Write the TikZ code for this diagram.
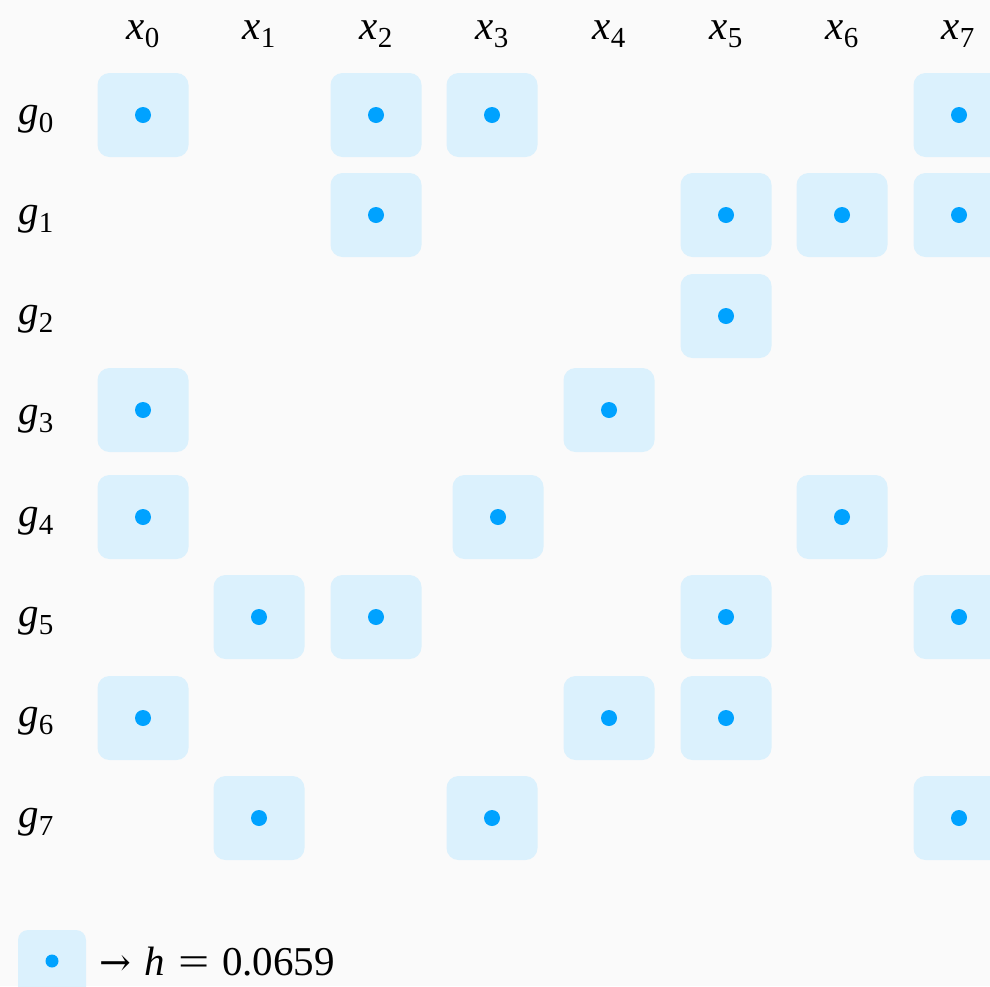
\documentclass[tikz,border=0pt]{standalone}
\usepackage{fontspec}
\usepackage{graphicx}
\setmainfont{Liberation Serif}
\newfontfamily\arrowfont{DejaVu Serif}
\definecolor{bgc}{RGB}{250,250,250}
\definecolor{cellc}{RGB}{219,241,253}
\definecolor{dotc}{RGB}{0,162,255}
\newcommand{\mylbl}[2]{\textit{#1}\raisebox{-0.2em}{\fontsize{29}{29}\selectfont #2}}
\tikzset{
  cell/.style={fill=cellc, draw=none, rounded corners=12pt, minimum width=91pt, minimum height=84pt, inner sep=0pt},
  lab/.style={anchor=base, inner sep=0pt, font=\fontsize{41}{44}\selectfont},
}
\newcommand{\mycell}[3]{%
  \node[cell] (#1) at (#2,#3) {};
  \fill[dotc] (#1.center) circle (8pt);}
\begin{document}
\begin{tikzpicture}[x=1pt,y=-1pt]
\fill[bgc] (0,0) rectangle (990,986);
\useasboundingbox (0,0) rectangle (990,986);
\clip (0,0) rectangle (990,986);
% column labels
\foreach \i/\xx in {0/143,1/259,2/376,3/492,4/609,5/726,6/842,7/958}{
  \node[lab] (x\i) at (\xx,39) {\mylbl{x}{\i}};
}
% row labels
\foreach \i/\yy in {0/124,1/224,2/324,3/424,4/526,5/626,6/726,7/827}{
  \node[lab] (g\i) at (36,\yy) {\mylbl{g}{\i}};
}
% cells
\mycell{c00}{143}{115}
\mycell{c02}{376}{115}
\mycell{c03}{492}{115}
\mycell{c07}{959}{115}
\mycell{c12}{376}{215}
\mycell{c15}{726}{215}
\mycell{c16}{842}{215}
\mycell{c17}{959}{215}
\mycell{c25}{726}{316}
\mycell{c30}{143}{410}
\mycell{c34}{609}{410}
\mycell{c40}{143}{517}
\mycell{c43}{498}{517}
\mycell{c46}{842}{517}
\mycell{c51}{259}{617}
\mycell{c52}{376}{617}
\mycell{c55}{726}{617}
\mycell{c57}{959}{617}
\mycell{c60}{143}{718}
\mycell{c64}{609}{718}
\mycell{c65}{726}{718}
\mycell{c71}{259}{818}
\mycell{c73}{492}{818}
\mycell{c77}{959}{818}
% legend
\node[fill=cellc, rounded corners=10pt, minimum width=68pt, minimum height=70pt, inner sep=0pt] (leg) at (52,965) {};
\fill[dotc] (52,961) circle (6.5pt);
\node[lab, anchor=base west] (legtxt) at (99,975) {{\arrowfont\fontsize{38}{40}\selectfont →}\hspace{0.33em}\textit{h}\hspace{0.33em}\scalebox{1.35}[1]{=}\hspace{0.3em}0.0659};
\end{tikzpicture}
\end{document}
